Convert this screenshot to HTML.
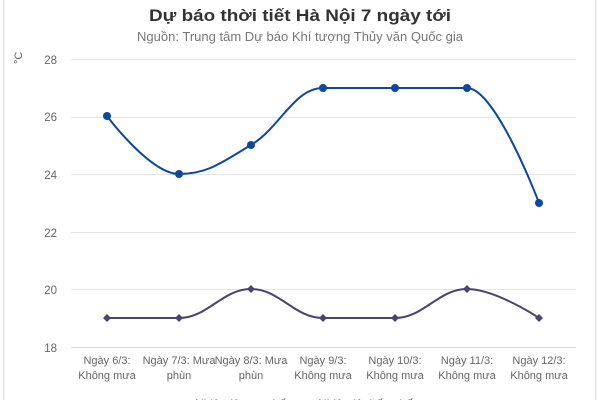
<!DOCTYPE html>
<html><head><meta charset="utf-8"><style>
html,body{margin:0;padding:0;background:#fff;}
svg{display:block;font-family:"Liberation Sans",sans-serif;}
</style></head><body>
<svg width="600" height="400" viewBox="0 0 600 400" xmlns="http://www.w3.org/2000/svg">
<rect x="0" y="0" width="600" height="400" fill="#fff"/>
<line x1="3.5" y1="0" x2="3.5" y2="400" stroke="#e0e0e0" stroke-width="1.5"/>
<line x1="595.5" y1="0" x2="595.5" y2="400" stroke="#e0e0e0" stroke-width="1.5"/>
<text x="300" y="21" text-anchor="middle" font-size="17" font-weight="bold" fill="#333" textLength="302" lengthAdjust="spacingAndGlyphs">Dự báo thời tiết Hà Nội 7 ngày tới</text>
<text x="300" y="41" text-anchor="middle" font-size="13" fill="#777" textLength="326" lengthAdjust="spacingAndGlyphs">Nguồn: Trung tâm Dự báo Khí tượng Thủy văn Quốc gia</text>
<g stroke="#e6e6e6" stroke-width="1">
<line x1="71" y1="59.5" x2="576" y2="59.5"/>
<line x1="71" y1="117.5" x2="576" y2="117.5"/>
<line x1="71" y1="174.5" x2="576" y2="174.5"/>
<line x1="71" y1="232.5" x2="576" y2="232.5"/>
<line x1="71" y1="289.5" x2="576" y2="289.5"/>
</g>
<line x1="71" y1="347.5" x2="576" y2="347.5" stroke="#ccd6eb" stroke-width="1"/>
<g font-size="11.5" fill="#666" text-anchor="end">
<text x="57" y="64">28</text>
<text x="57" y="121">26</text>
<text x="57" y="179">24</text>
<text x="57" y="237">22</text>
<text x="57" y="294">20</text>
<text x="57" y="352">18</text>
</g>
<text x="0" y="0" font-size="11" fill="#666" transform="translate(22,64) rotate(-90)">°C</text>
<path d="M107 116 C107 116 150.2 174 179 174 C207.8 174 222.2 162.2 251 145 C279.8 127.8 294.2 88 323 88 C351.8 88 366.2 88 395 88 C423.8 88 438.2 88 467 88 C495.8 88 539 203 539 203" fill="none" stroke="#0d47a1" stroke-width="2"/>
<g fill="#0d47a1">
<circle cx="107" cy="116" r="4"/><circle cx="179" cy="174" r="4"/><circle cx="251" cy="145" r="4"/><circle cx="323" cy="88" r="4"/><circle cx="395" cy="88" r="4"/><circle cx="467" cy="88" r="4"/><circle cx="539" cy="203" r="4"/>
</g>
<path d="M107 318 C107 318 150.2 318 179 318 C207.8 318 222.2 289 251 289 C279.8 289 294.2 318 323 318 C351.8 318 366.2 318 395 318 C423.8 318 438.2 289 467 289 C495.8 289 539 318 539 318" fill="none" stroke="#4a4470" stroke-width="2"/>
<g fill="#4a4470">
<path d="M107 314 l4 4 l-4 4 l-4 -4z"/><path d="M179 314 l4 4 l-4 4 l-4 -4z"/><path d="M251 285 l4 4 l-4 4 l-4 -4z"/><path d="M323 314 l4 4 l-4 4 l-4 -4z"/><path d="M395 314 l4 4 l-4 4 l-4 -4z"/><path d="M467 285 l4 4 l-4 4 l-4 -4z"/><path d="M539 314 l4 4 l-4 4 l-4 -4z"/>
</g>
<g font-size="11" fill="#666" text-anchor="middle">
<text x="107" y="364">Ngày 6/3:</text><text x="107" y="379">Không mưa</text>
<text x="179" y="364">Ngày 7/3: Mưa</text><text x="179" y="379">phùn</text>
<text x="251" y="364">Ngày 8/3: Mưa</text><text x="251" y="379">phùn</text>
<text x="323" y="364">Ngày 9/3:</text><text x="323" y="379">Không mưa</text>
<text x="395" y="364">Ngày 10/3:</text><text x="395" y="379">Không mưa</text>
<text x="467" y="364">Ngày 11/3:</text><text x="467" y="379">Không mưa</text>
<text x="539" y="364">Ngày 12/3:</text><text x="539" y="379">Không mưa</text>
</g>
<g font-size="12" fill="#444">
<text x="195" y="408">Nhiệt độ cao nhất</text>
<text x="318" y="408">Nhiệt độ thấp nhất</text>
</g>
</svg>
</body></html>
